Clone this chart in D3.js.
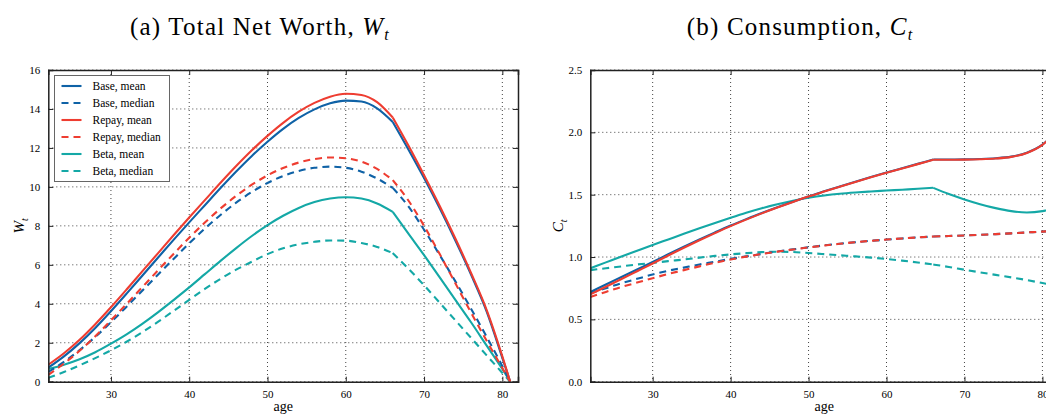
<!DOCTYPE html>
<html><head><meta charset="utf-8">
<script src="https://cdn.jsdelivr.net/npm/d3@7"></script>
<style>
html,body{margin:0;padding:0;background:#fff;}
svg{display:block;}
text{font-family:"Liberation Serif","Times New Roman",serif;fill:#000;}
</style></head>
<body>
<svg id="chart" width="1046" height="416"></svg>
<script>
// ---------------- DATA ----------------
const retireAge = 66;
const agesW = [22,24,26,28,30,32,34,36,38,40,42,44,46,48,50,52,54,56,58,60,62,64,66,68,70,72,74,76,78,80,81];
const baseMeanW   = [0.72,1.30,1.98,2.76,3.62,4.52,5.44,6.36,7.28,8.18,9.06,9.94,10.79,11.59,12.32,12.98,13.54,13.98,14.29,14.43,14.38,14.03,13.33,11.92,10.45,8.9,7.25,5.5,3.6,1.22,0];
const baseMedianW = [0.5,1.02,1.62,2.30,3.05,3.85,4.67,5.49,6.30,7.10,7.86,8.56,9.19,9.74,10.2,10.56,10.82,10.98,11.04,10.98,10.78,10.43,9.95,9.0,7.8,6.5,5.15,3.75,2.3,0.8,0];
const repayMeanW  = [0.87,1.46,2.15,2.95,3.82,4.73,5.66,6.59,7.52,8.43,9.32,10.21,11.07,11.88,12.62,13.29,13.86,14.31,14.63,14.78,14.72,14.35,13.56,12.12,10.6,9.02,7.35,5.58,3.68,1.3,0];
const repayMedianW= [0.35,0.93,1.59,2.33,3.15,3.99,4.85,5.71,6.56,7.39,8.17,8.89,9.54,10.11,10.59,10.97,11.25,11.43,11.51,11.47,11.3,10.92,10.35,9.3,8.0,6.55,5.05,3.55,2.1,0.7,0];
const betaMeanW   = [0.65,0.87,1.15,1.51,1.95,2.43,2.97,3.56,4.19,4.84,5.52,6.2,6.86,7.48,8.04,8.52,8.92,9.22,9.4,9.47,9.4,9.15,8.72,7.6,6.5,5.35,4.2,3.05,1.85,0.65,0];
const betaMedianW = [0.2,0.5,0.84,1.21,1.61,2.05,2.54,3.07,3.63,4.2,4.76,5.28,5.75,6.16,6.55,6.85,7.05,7.18,7.25,7.24,7.12,6.92,6.6,5.8,4.95,4.05,3.15,2.25,1.35,0.45,0];

const agesC = [22,24,26,28,30,32,34,36,38,40,42,44,46,48,50,52,54,56,58,60,62,64,66,68,70,72,74,76,78,80,82];
const baseMeanC   = [0.72,0.78,0.84,0.9,0.96,1.022,1.082,1.141,1.198,1.253,1.304,1.353,1.399,1.443,1.486,1.527,1.566,1.604,1.641,1.677,1.712,1.747,1.782,1.782,1.783,1.786,1.792,1.805,1.837,1.902,2.02];
const baseMedianC = [0.71,0.75,0.79,0.825,0.86,0.89,0.915,0.94,0.962,0.985,1.005,1.025,1.044,1.061,1.078,1.093,1.107,1.119,1.13,1.14,1.149,1.157,1.164,1.169,1.173,1.178,1.184,1.19,1.197,1.204,1.211];
const repayMeanC  = [0.70,0.762,0.824,0.886,0.948,1.012,1.074,1.134,1.192,1.248,1.3,1.35,1.397,1.442,1.485,1.525,1.564,1.602,1.639,1.675,1.71,1.745,1.78,1.78,1.781,1.784,1.79,1.803,1.835,1.9,2.02];
const repayMedianC= [0.68,0.72,0.76,0.795,0.83,0.864,0.895,0.925,0.954,0.98,1.003,1.024,1.043,1.06,1.077,1.092,1.106,1.119,1.13,1.14,1.149,1.157,1.164,1.169,1.173,1.178,1.184,1.19,1.197,1.204,1.211];
const betaMeanC   = [0.91,0.957,1.004,1.05,1.096,1.141,1.186,1.23,1.273,1.315,1.355,1.391,1.423,1.451,1.475,1.494,1.508,1.518,1.526,1.533,1.54,1.547,1.555,1.505,1.462,1.424,1.392,1.368,1.357,1.368,1.4];
const betaMedianC = [0.895,0.91,0.925,0.94,0.953,0.967,0.98,0.995,1.009,1.021,1.031,1.039,1.042,1.04,1.032,1.023,1.014,1.005,0.995,0.984,0.971,0.956,0.94,0.92,0.898,0.877,0.857,0.837,0.815,0.791,0.766];

const seriesNames = ["Base, mean","Base, median","Repay, mean","Repay, median","Beta, mean","Beta, median"];
const xTicks = [30,40,50,60,70,80];
const yTicksW = [0,2,4,6,8,10,12,14,16];
const yTicksC = [0,0.5,1,1.5,2,2.5];

// ---------------- STYLE ----------------
const colors = {Base:"#0f62a6", Repay:"#ee3d31", Beta:"#14a8a6"};
const dash = "7,5";

const svg = d3.select("#chart");

function drawPanel(cfg){
  const {x0,x1,y0,y1,ages,series,yDomain,yTicks,yFmt,clipId,ylab} = cfg;
  const x = d3.scaleLinear().domain([22,82]).range([x0,x1]);
  const y = d3.scaleLinear().domain(yDomain).range([y1,y0]);
  const g = svg.append("g");
  g.append("clipPath").attr("id",clipId).append("rect")
    .attr("x",x0).attr("y",y0).attr("width",x1-x0).attr("height",y1-y0);

  // grid
  const grid = g.append("g").attr("stroke","#444").attr("stroke-width",1).attr("stroke-dasharray","1,3");
  grid.selectAll("line.v").data(xTicks).enter().append("line")
    .attr("x1",d=>x(d)).attr("x2",d=>x(d)).attr("y1",y0).attr("y2",y1);
  grid.selectAll("line.h").data(yTicks).enter().append("line")
    .attr("y1",d=>y(d)).attr("y2",d=>y(d)).attr("x1",x0).attr("x2",x1);

  // lines
  const lg = g.append("g").attr("clip-path",`url(#${clipId})`);
  series.forEach(s=>{
    const pts = ages.map((a,i)=>[a,s.values[i]]);
    const parts = [pts.filter(p=>p[0]<=retireAge), pts.filter(p=>p[0]>=retireAge)];
    const line = d3.line().x(d=>x(d[0])).y(d=>y(d[1])).curve(d3.curveMonotoneX);
    parts.forEach(p=>{
      lg.append("path").attr("d",line(p)).attr("fill","none")
        .attr("stroke",s.color).attr("stroke-width",2.1)
        .attr("stroke-dasharray",s.dashed?dash:null);
    });
  });

  // axes (ticks inward, on all four sides)
  const axB = d3.axisBottom(x).tickValues(xTicks).tickSize(-5).tickPadding(9).tickFormat(d3.format("d"));
  const axT = d3.axisTop(x).tickValues(xTicks).tickSize(-5).tickFormat("");
  const axL = d3.axisLeft(y).tickValues(yTicks).tickSize(-5).tickPadding(8).tickFormat(yFmt);
  const axR = d3.axisRight(y).tickValues(yTicks).tickSize(-5).tickFormat("");
  const styleAx = sel=>{
    sel.select(".domain").attr("stroke","#222").attr("stroke-width",1.5);
    sel.selectAll(".tick line").attr("stroke","#222").attr("stroke-width",1);
    sel.selectAll(".tick text").attr("font-family","Liberation Serif, serif").attr("font-size",11).attr("fill","#000");
  };
  g.append("g").attr("transform",`translate(0,${y1})`).call(axB).call(styleAx);
  g.append("g").attr("transform",`translate(0,${y0})`).call(axT).call(styleAx);
  g.append("g").attr("transform",`translate(${x0},0)`).call(axL).call(styleAx);
  g.append("g").attr("transform",`translate(${x1},0)`).call(axR).call(styleAx);

  // x label
  g.append("text").attr("x",(x0+x1)/2).attr("y",411)
    .attr("text-anchor","middle").attr("font-size",14).text("age");
  // y label
  const yl = g.append("text").attr("transform",`translate(${cfg.ylabX},${(y0+y1)/2}) rotate(-90)`)
    .attr("text-anchor","middle").attr("font-size",15);
  yl.append("tspan").attr("font-style","italic").text(ylab);
  yl.append("tspan").attr("font-style","italic").attr("font-size",10).attr("dy",4).text("t");
  return {x,y,g};
}

function mkSeries(bm,bmed,rm,rmed,btm,btmed){
  return [
    {name:seriesNames[0],color:colors.Base,values:bm,dashed:false},
    {name:seriesNames[1],color:colors.Base,values:bmed,dashed:true},
    {name:seriesNames[2],color:colors.Repay,values:rm,dashed:false},
    {name:seriesNames[3],color:colors.Repay,values:rmed,dashed:true},
    {name:seriesNames[4],color:colors.Beta,values:btm,dashed:false},
    {name:seriesNames[5],color:colors.Beta,values:btmed,dashed:true}
  ];
}

const drawOrder = [4,5,0,1,2,3];
const sW = mkSeries(baseMeanW,baseMedianW,repayMeanW,repayMedianW,betaMeanW,betaMedianW);
drawPanel({x0:48.3,x1:518,y0:70,y1:381.7,ages:agesW,series:drawOrder.map(i=>sW[i]),
  yDomain:[0,16],yTicks:yTicksW,yFmt:d3.format("d"),clipId:"clipL",ylab:"W",ylabX:24});

const sC = mkSeries(baseMeanC,baseMedianC,repayMeanC,repayMedianC,betaMeanC,betaMedianC);
drawPanel({x0:590.3,x1:1058,y0:70,y1:381.7,ages:agesC,series:drawOrder.map(i=>sC[i]),
  yDomain:[0,2.5],yTicks:yTicksC,yFmt:d3.format(".1f"),clipId:"clipR",ylab:"C",ylabX:563});

// legend (left panel)
const lgx = 54.5, lgy = 75.5, lgw = 115, lgh = 106;
const leg = svg.append("g");
leg.append("rect").attr("x",lgx).attr("y",lgy).attr("width",lgw).attr("height",lgh)
  .attr("fill","#fff").attr("stroke","#666").attr("stroke-width",1);
sW.forEach((s,i)=>{
  const yy = lgy + 10.5 + i*17;
  leg.append("line").attr("x1",lgx+7).attr("x2",lgx+27).attr("y1",yy).attr("y2",yy)
    .attr("stroke",s.color).attr("stroke-width",2.1).attr("stroke-dasharray",s.dashed?"7,5":null);
  leg.append("text").attr("x",lgx+38).attr("y",yy+4).attr("font-size",11.5).text(s.name);
});

// titles
function title(cx, label, sym, targetW){
  const t = svg.append("text").attr("x",cx).attr("y",35).attr("text-anchor","middle").attr("font-size",25);
  t.append("tspan").text(label);
  t.append("tspan").attr("font-style","italic").text(sym);
  t.append("tspan").attr("font-style","italic").attr("font-size",16).attr("dy",5).text("t");
  const w = t.node().getComputedTextLength();
  const n = (label+sym+"t").length;
  const ls = Math.max(0, Math.min(1.2, (targetW - w)/n));
  t.attr("letter-spacing", ls.toFixed(2));
}
title(260, "(a) Total Net Worth, ", "W", 285);
title(800, "(b) Consumption, ", "C", 240);
</script>
</body></html>
